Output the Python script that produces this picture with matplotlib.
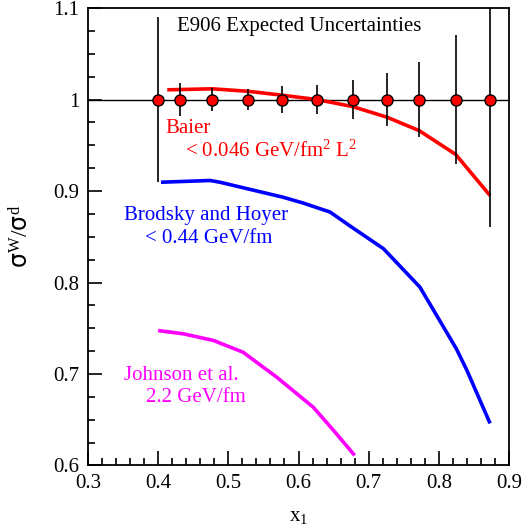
import matplotlib
matplotlib.use("Agg")
import matplotlib.pyplot as plt
from matplotlib.ticker import MultipleLocator
import numpy as np

plt.rcParams['font.family'] = ['Liberation Serif', 'DejaVu Serif']
plt.rcParams['mathtext.fontset'] = 'custom'
plt.rcParams['mathtext.rm'] = 'Liberation Serif'
plt.rcParams['mathtext.it'] = 'Liberation Serif'
plt.rcParams['mathtext.bf'] = 'Liberation Serif:bold'
plt.rcParams['mathtext.sf'] = 'DejaVu Sans'

# E906 expected uncertainties
pt_x = [0.400, 0.431, 0.477, 0.528, 0.577, 0.626, 0.677, 0.726, 0.772, 0.824, 0.873]
pt_y = [1.0] * 11
pt_err = [0.090, 0.018, 0.013, 0.012, 0.015, 0.016, 0.021, 0.029, 0.041, 0.071, 0.139]

# Baier
baier_x = [0.413, 0.477, 0.528, 0.577, 0.626, 0.677, 0.726, 0.772, 0.824, 0.873]
baier_y = [1.0106, 1.0117, 1.009, 1.0047, 1.0, 0.9923, 0.9807, 0.966, 0.940, 0.895]

# Brodsky and Hoyer
bh_x = [0.404, 0.474, 0.488, 0.578, 0.606, 0.645, 0.673, 0.721, 0.773, 0.825, 0.840, 0.873]
bh_y = [0.9096, 0.9115, 0.9096, 0.8932, 0.887, 0.877, 0.862, 0.837, 0.795, 0.7275, 0.704, 0.646]

# Johnson et al.
jo_x = [0.400, 0.436, 0.479, 0.521, 0.569, 0.621, 0.650, 0.680]
jo_y = [0.7475, 0.7439, 0.7366, 0.7238, 0.6965, 0.6637, 0.6383, 0.611]

fig = plt.figure(figsize=(5.26, 5.28), dpi=100)
ax = fig.add_axes([0.1673, 0.1184, 0.8004, 0.8664])

ax.axhline(1.0, color='black', lw=1.0, zorder=1)
ax.plot(baier_x, baier_y, color='#ff0000', lw=2.6, zorder=2, solid_capstyle='butt')
ax.plot(bh_x, bh_y, color='#0000ff', lw=2.6, zorder=2, solid_capstyle='butt')
ax.plot(jo_x, jo_y, color='#ff00ff', lw=2.6, zorder=2, solid_capstyle='butt')
ax.errorbar(pt_x, pt_y, yerr=pt_err, fmt='o', color='black', ecolor='black',
            elinewidth=1.2, capsize=0, markersize=8, markerfacecolor='#ff0000',
            markeredgecolor='black', markeredgewidth=1.0, zorder=3)

ax.set_xlim(0.3, 0.9)
ax.set_ylim(0.6, 1.1)
ax.xaxis.set_minor_locator(MultipleLocator(0.02))
ax.yaxis.set_minor_locator(MultipleLocator(0.025))
ax.set_xticks(np.round(np.arange(0.3, 0.91, 0.1), 1))
ax.set_xticklabels(['0.3', '0.4', '0.5', '0.6', '0.7', '0.8', '0.9'])
ax.set_yticks(np.round(np.arange(0.6, 1.11, 0.1), 1))
ax.set_yticklabels(['0.6', '0.7', '0.8', '0.9', '1', '1.1'])
ax.tick_params(which='both', direction='in', top=False, right=False, labelsize=15, width=1.2)
ax.tick_params(which='major', length=10)
ax.tick_params(which='minor', length=5)
ax.tick_params(axis='x', pad=6)
ax.tick_params(axis='y', pad=6)
for s in ax.spines.values():
    s.set_linewidth(1.3)

ax.text(0.427, 1.08, 'E906 Expected Uncertainties', fontsize=15, va='center', ha='left')
ax.text(0.41, 0.968, 'Baier', fontsize=15, color='#ff0000', va='center')
ax.text(0.438, 0.944, '< 0.046 GeV/fm$^2$ L$^2$', fontsize=15, color='#ff0000', va='center')
ax.text(0.351, 0.873, 'Brodsky and Hoyer', fontsize=15, color='#0000ff', va='center')
ax.text(0.381, 0.848, '< 0.44 GeV/fm', fontsize=15, color='#0000ff', va='center')
ax.text(0.351, 0.698, 'Johnson et al.', fontsize=15, color='#ff00ff', va='center')
ax.text(0.382, 0.674, '2.2 GeV/fm', fontsize=15, color='#ff00ff', va='center')

ax.set_xlabel('x$_1$', fontsize=15, labelpad=10)
ax.set_ylabel(r'$\mathsf{σ}^{\mathrm{W}}/\mathsf{σ}^{\mathrm{d}}$', fontsize=17)
ax.yaxis.set_label_coords(-0.13, 0.5)

fig.savefig('out.png', dpi=100)
